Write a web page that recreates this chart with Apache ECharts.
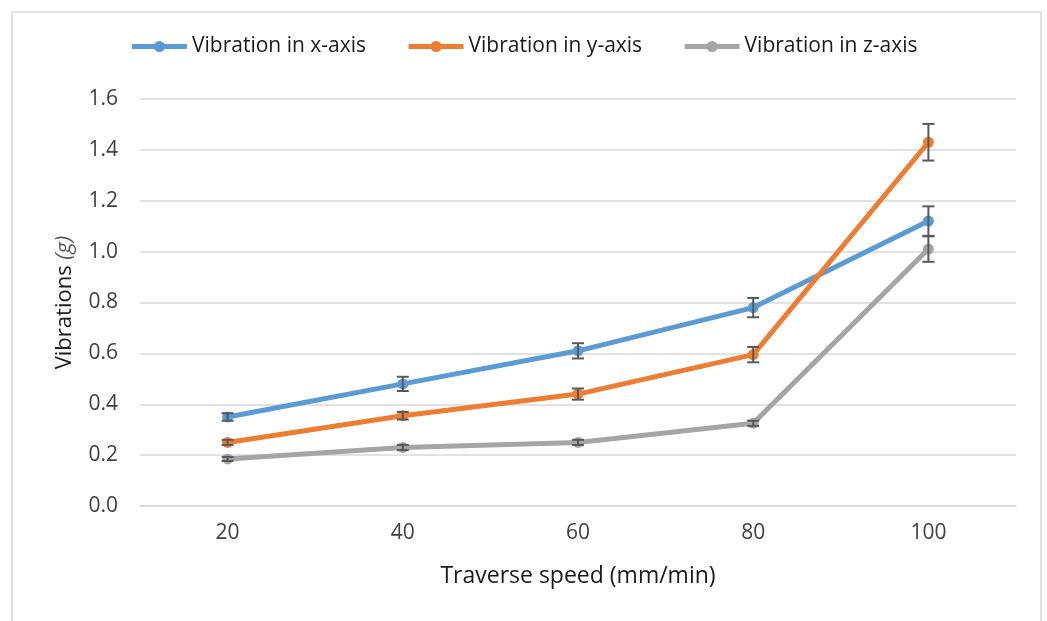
<!DOCTYPE html>
<html><head><meta charset="utf-8">
<script src="https://cdn.jsdelivr.net/npm/echarts@6/dist/echarts.min.js"></script>
<style>html,body{margin:0;padding:0;background:#fff}#c{width:1047px;height:621px}</style>
</head><body><div id="c"></div>
<script>
var categories = ['20','40','60','80','100'];
var xVals = [0.35, 0.48, 0.61, 0.78, 1.12];
var yVals = [0.25, 0.355, 0.44, 0.595, 1.43];
var zVals = [0.185, 0.23, 0.25, 0.325, 1.01];
var xErr = [0.015, 0.028, 0.03, 0.038, 0.058];
var yErr = [0.01, 0.015, 0.022, 0.03, 0.072];
var zErr = [0.008, 0.01, 0.01, 0.01, 0.05];
var names = ['Vibration in x-axis','Vibration in y-axis','Vibration in z-axis'];
var colors = ['#5b9bd5','#ed7d31','#a5a5a5'];
var FONT = 'Open Sans';

function errData(vals, errs){ return vals.map(function(v,i){ return [i, v-errs[i], v+errs[i]]; }); }
function errSeries(vals, errs){
  return {
    type:'custom', silent:true, z:3,
    data: errData(vals, errs),
    renderItem: function(params, api){
      var lo = api.coord([api.value(0), api.value(1)]);
      var hi = api.coord([api.value(0), api.value(2)]);
      var w = 6;
      var st = {stroke:'#595959', lineWidth:2};
      return {type:'group', children:[
        {type:'line', shape:{x1:lo[0],y1:lo[1],x2:hi[0],y2:hi[1]}, style:st},
        {type:'line', shape:{x1:lo[0]-w,y1:lo[1],x2:lo[0]+w,y2:lo[1]}, style:st},
        {type:'line', shape:{x1:hi[0]-w,y1:hi[1],x2:hi[0]+w,y2:hi[1]}, style:st}
      ]};
    }
  };
}
function lineSeries(name, vals, color){
  return {name:name, type:'line', data:vals, symbol:'circle', symbolSize:11,
    lineStyle:{width:5, color:color}, itemStyle:{color:color}, z:2};
}
var chart = echarts.init(document.getElementById('c'));
chart.setOption({
  animation:false,
  color: colors,
  graphic:[{type:'rect', shape:{x:12,y:12,width:1029,height:620}, style:{fill:'none', stroke:'#d9d9d9', lineWidth:1.5}, silent:true}],
  legend:{top:31, left:'center', itemWidth:55, itemHeight:14, itemGap:40,
    lineStyle:{width:5}, itemStyle:{borderWidth:0},
    textStyle:{fontFamily:FONT, fontSize:21, color:'#1a1a1a'},
    data: names},
  grid:{left:140, right:31, top:99, bottom:115, containLabel:false},
  xAxis:{type:'category', data:categories, boundaryGap:true,
    name:'Traverse speed (mm/min)', nameLocation:'middle', nameGap:59,
    nameTextStyle:{fontFamily:FONT, fontSize:23, color:'#1a1a1a'},
    axisLine:{lineStyle:{color:'#d9d9d9', width:1.5}}, axisTick:{show:false},
    axisLabel:{fontFamily:FONT, fontSize:21, color:'#404040', margin:17}},
  yAxis:{type:'value', min:0, max:1.6, interval:0.2,
    name:'{n|Vibrations }{g|(g)}', nameLocation:'middle', nameGap:64,
    nameTextStyle:{rich:{n:{fontFamily:FONT, fontSize:22, color:'#1a1a1a'}, g:{fontFamily:FONT, fontSize:22, fontStyle:'italic', color:'#595959'}}},
    axisLine:{show:false}, axisTick:{show:false},
    splitLine:{lineStyle:{color:'#d9d9d9', width:1.5}},
    axisLabel:{fontFamily:FONT, fontSize:21, color:'#404040', margin:22,
      formatter:function(v){return v.toFixed(1);}}},
  series:[
    lineSeries(names[0], xVals, colors[0]),
    lineSeries(names[1], yVals, colors[1]),
    lineSeries(names[2], zVals, colors[2]),
    errSeries(xVals, xErr), errSeries(yVals, yErr), errSeries(zVals, zErr)
  ]
});
</script></body></html>
